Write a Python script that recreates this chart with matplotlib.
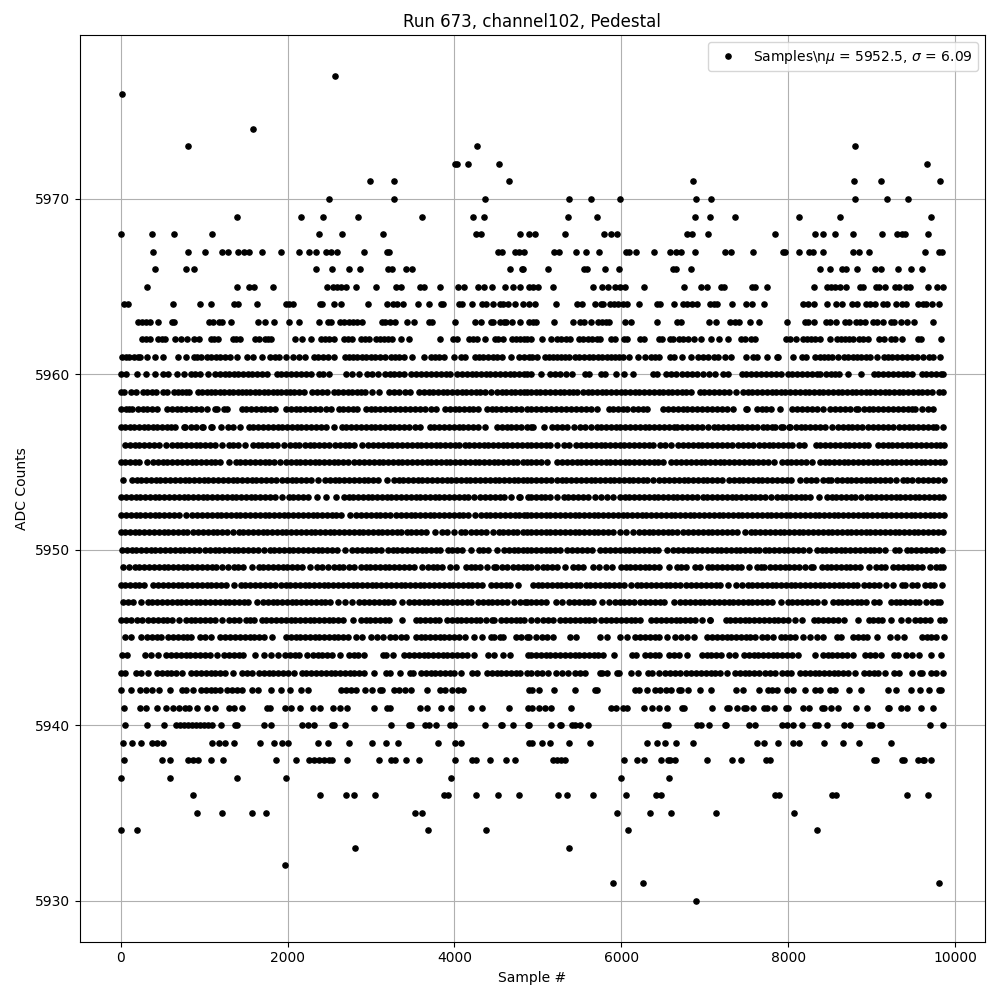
import matplotlib
matplotlib.use('Agg')
import matplotlib.pyplot as plt

# sample numbers, one list per ADC level
adc_5977 = [2564]
adc_5976 = [20]
adc_5974 = [1580]
adc_5973 = [812, 4268, 8796]
adc_5972 = [4010, 4028, 4160, 4532, 9660]
adc_5971 = [2984, 3272, 4652, 6864, 8784, 9108, 9816]
adc_5970 = [2492, 3272, 4364, 5376, 5640, 5988, 6900, 7068, 8796, 9180, 9432]
adc_5969 = [1388, 2156, 2420, 2840, 3608, 4220, 4352, 5364, 5712, 6888, 7056, 7356, 8124, 8616, 9708]
adc_5968 = [8, 380, 644, 1100, 2372, 2648, 3140, 4256, 4320, 4784, 4888, 4964, 5328, 5796, 5880, 5952, 6792, 6852,
            7032, 7836, 8316, 8412, 8556, 8772, 9120, 9300, 9360, 9396, 9672]
adc_5967 = [392, 812, 1016, 1220, 1280, 1400, 1472, 1532, 1688, 1916, 2132, 2252, 2336, 2456, 2516, 2588, 2912, 3188,
            3212, 4520, 4568, 4724, 4772, 4832, 5196, 5256, 5460, 5580, 5736, 6060, 6096, 6180, 6396, 6588, 6660, 6720,
            6888, 7236, 7308, 7572, 7932, 7956, 8124, 8244, 8292, 8412, 8772, 8844, 8964, 9636, 9804, 9840]
adc_5966 = [416, 788, 884, 2336, 2528, 2732, 2864, 3200, 3248, 3416, 3488, 4664, 4808, 4824, 5124, 5556, 5588, 5808,
            5976, 6624, 6652, 6840, 8376, 8496, 8640, 8688, 8820, 9036, 9108, 9312, 9468, 9600]
adc_5965 = [320, 1388, 1532, 1592, 1820, 2468, 2540, 2588, 2636, 2696, 2816, 3056, 3296, 3356, 3584, 3632, 3824, 4040,
            4112, 4280, 4352, 4448, 4604, 4700, 4784, 4892, 4940, 5000, 5184, 5664, 5772, 5836, 5928, 5988, 6048, 6276,
            6756, 6948, 7020, 7188, 7224, 7560, 7596, 7740, 8304, 8460, 8508, 8556, 8616, 8688, 8856, 8892, 9048, 9084,
            9156, 9276, 9324, 9408, 9456, 9680, 9780, 9852]
adc_5964 = [44, 92, 632, 956, 1088, 1352, 1400, 1628, 1976, 2020, 2060, 2384, 2412, 2552, 2636, 2960, 3188, 3260, 3308,
            3380, 3560, 3692, 3836, 3860, 4052, 4088, 4204, 4328, 4380, 4460, 4540, 4580, 4640, 4728, 4820, 4892, 4964,
            5220, 5472, 5532, 5688, 5760, 5784, 5868, 5916, 5964, 6024, 6072, 6216, 6432, 6468, 6636, 6744, 6792, 6852,
            6912, 7056, 7104, 7140, 7320, 7488, 7560, 7704, 8172, 8232, 8304, 8460, 8568, 8640, 8760, 8820, 8928, 8976,
            9036, 9132, 9180, 9288, 9360, 9408, 9552, 9612, 9648, 9720, 9804]
adc_5963 = [212, 260, 308, 348, 452, 620, 640, 1064, 1112, 1184, 1220, 1316, 1640, 1724, 1832, 2012, 2132, 2372, 2480,
            2516, 2624, 2672, 2732, 2780, 2828, 2888, 3128, 3164, 3224, 3284, 3428, 3512, 3692, 3728, 4004, 4244, 4316,
            4436, 4460, 4544, 4592, 4616, 4688, 4784, 4892, 4940, 4980, 5196, 5424, 5508, 5556, 5640, 5724, 5772, 5820,
            5856, 6048, 6120, 6432, 6672, 6720, 7044, 7128, 7296, 7356, 7404, 7536, 7644, 7980, 8196, 8232, 8304, 8448,
            8496, 8568, 8676, 8724, 8808, 8856, 8916, 9012, 9060, 9132, 9228, 9264, 9348, 9420, 9504, 9732]
adc_5962 = [260, 308, 348, 452, 500, 528, 656, 728, 800, 884, 944, 1088, 1124, 1172, 1340, 1380, 1424, 1604, 1652, 1724,
            1760, 1796, 2084, 2168, 2276, 2396, 2444, 2492, 2552, 2672, 2720, 2768, 2876, 2924, 2972, 3056, 3104, 3152,
            3200, 3248, 3356, 3452, 3824, 3980, 4028, 4172, 4220, 4268, 4364, 4484, 4520, 4580, 4688, 4736, 4784, 4832,
            4872, 4920, 5052, 5160, 5232, 5280, 5340, 5388, 5496, 5544, 5604, 5652, 5712, 5748, 5880, 5928, 6036, 6072,
            6228, 6276, 6456, 6492, 6588, 6624, 6696, 6744, 6804, 6876, 6948, 7068, 7164, 7272, 7428, 7476, 7548, 7596,
            7968, 8016, 8088, 8172, 8220, 8268, 8316, 8376, 8496, 8580, 8628, 8676, 8724, 8772, 8844, 8892, 8952, 9084,
            9144, 9228, 9276, 9360, 9552, 9588, 9828]
adc_5961 = [20, 68, 104, 164, 212, 236, 320, 416, 512, 692, 788, 884, 920, 968, 1040, 1088, 1148, 1196, 1256, 1304, 1396,
            1508, 1580, 1688, 1784, 1844, 1892, 1976, 2060, 2132, 2204, 2312, 2360, 2420, 2480, 2556, 2684, 2732, 2780,
            2828, 2888, 2936, 2996, 3044, 3104, 3164, 3236, 3284, 3332, 3392, 3488, 3632, 3716, 3764, 3812, 3872, 3992,
            4076, 4124, 4244, 4292, 4340, 4400, 4460, 4508, 4568, 4676, 4772, 4832, 4892, 4932, 4992, 5088, 5136, 5184,
            5232, 5280, 5328, 5376, 5448, 5496, 5556, 5616, 5664, 5724, 5772, 5832, 5880, 5928, 5976, 6024, 6096, 6204,
            6288, 6360, 6408, 6456, 6588, 6636, 6732, 6840, 6924, 6972, 7032, 7104, 7152, 7236, 7308, 7488, 7572, 7620,
            7740, 7860, 7872, 8060, 8160, 8208, 8320, 8376, 8424, 8472, 8520, 8592, 8664, 8712, 8772, 8820, 8868, 8928,
            8976, 9060, 9144, 9192, 9240, 9300, 9360, 9420, 9480, 9540, 9612, 9684, 9732, 9816]
adc_5960 = [8, 60, 200, 300, 408, 504, 572, 680, 760, 840, 895, 950, 1044, 1136, 1190, 1245, 1300, 1355, 1410, 1465, 1520,
            1575, 1630, 1690, 1752, 1868, 1925, 1985, 2040, 2100, 2160, 2220, 2280, 2372, 2430, 2496, 2696, 2775, 2856,
            2948, 3016, 3080, 3168, 3225, 3280, 3335, 3392, 3480, 3540, 3600, 3660, 3715, 3775, 3835, 3895, 3952, 4036,
            4090, 4150, 4205, 4260, 4320, 4375, 4430, 4490, 4545, 4600, 4660, 4715, 4770, 4830, 4872, 4920, 5032, 5140,
            5205, 5270, 5335, 5404, 5568, 5616, 5752, 5800, 5940, 6028, 6136, 6376, 6424, 6540, 6595, 6652, 6732, 6790,
            6850, 6904, 6976, 7050, 7124, 7220, 7280, 7440, 7495, 7555, 7615, 7675, 7735, 7795, 7855, 7912, 7992, 8050,
            8110, 8170, 8225, 8285, 8340, 8384, 8452, 8510, 8565, 8612, 8720, 8876, 9024, 9080, 9140, 9195, 9255, 9310,
            9370, 9425, 9484, 9600, 9655, 9715, 9770, 9830, 9856]
adc_5959 = [8, 40, 120, 184, 268, 320, 372, 424, 508, 560, 640, 690, 735, 780, 824, 928, 980, 1030, 1085, 1135, 1190, 1240,
            1295, 1345, 1400, 1450, 1505, 1555, 1610, 1660, 1715, 1765, 1820, 1870, 1925, 1975, 2030, 2080, 2135, 2192,
            2296, 2355, 2415, 2472, 2556, 2610, 2665, 2720, 2775, 2830, 2880, 2924, 3016, 3092, 3216, 3275, 3340, 3405,
            3472, 3576, 3630, 3690, 3745, 3800, 3860, 3915, 3970, 4030, 4085, 4140, 4200, 4255, 4310, 4370, 4432, 4512,
            4565, 4620, 4675, 4730, 4785, 4830, 4872, 4920, 4975, 5030, 5090, 5145, 5200, 5260, 5315, 5370, 5425, 5464,
            5540, 5595, 5650, 5710, 5765, 5820, 5880, 5935, 5990, 6045, 6105, 6160, 6215, 6275, 6330, 6385, 6445, 6500,
            6555, 6610, 6670, 6725, 6780, 6832, 6940, 6995, 7055, 7110, 7170, 7225, 7284, 7372, 7460, 7515, 7570, 7630,
            7685, 7740, 7800, 7855, 7910, 7965, 8025, 8080, 8135, 8195, 8250, 8305, 8365, 8420, 8475, 8530, 8590, 8645,
            8700, 8760, 8815, 8870, 8930, 8985, 9040, 9095, 9155, 9210, 9265, 9325, 9380, 9435, 9495, 9550, 9605, 9665,
            9724, 9808, 9856]
adc_5958 = [8, 60, 95, 132, 208, 262, 318, 375, 432, 560, 615, 670, 725, 780, 840, 900, 960, 1040, 1136, 1160, 1240, 1272,
            1448, 1505, 1565, 1620, 1680, 1735, 1795, 1852, 1976, 2035, 2095, 2150, 2210, 2270, 2330, 2390, 2455, 2520,
            2616, 2670, 2725, 2780, 2832, 2936, 2995, 3050, 3110, 3170, 3230, 3290, 3350, 3410, 3470, 3530, 3590, 3650,
            3715, 3776, 3888, 3945, 4005, 4060, 4115, 4170, 4225, 4280, 4388, 4445, 4500, 4560, 4620, 4680, 4740, 4800,
            4872, 4920, 4975, 5035, 5095, 5152, 5220, 5280, 5340, 5400, 5460, 5520, 5580, 5640, 5704, 5848, 5905, 5960,
            6015, 6064, 6144, 6200, 6255, 6312, 6504, 6560, 6620, 6680, 6735, 6790, 6844, 6912, 6970, 7030, 7090, 7150,
            7210, 7270, 7332, 7488, 7504, 7620, 7680, 7735, 7792, 7902, 8040, 8100, 8160, 8220, 8285, 8344, 8412, 8500,
            8560, 8620, 8680, 8736, 8812, 8836, 8908, 8965, 9020, 9080, 9140, 9200, 9260, 9320, 9380, 9440, 9480, 9524,
            9608, 9670, 9736]
adc_5957 = [0, 55, 110, 165, 220, 275, 330, 385, 440, 495, 550, 605, 656, 760, 772, 848, 904, 980, 992, 1080, 1092, 1208,
            1280, 1350, 1424, 1536, 1590, 1650, 1705, 1765, 1820, 1880, 1935, 1995, 2050, 2110, 2165, 2225, 2280, 2340,
            2395, 2455, 2552, 2648, 2705, 2765, 2820, 2880, 2935, 2995, 3050, 3110, 3165, 3225, 3280, 3340, 3395, 3455,
            3530, 3592, 3704, 3760, 3820, 3875, 3935, 3990, 4050, 4105, 4165, 4220, 4280, 4364, 4508, 4565, 4625, 4680,
            4740, 4795, 4872, 4920, 4944, 5070, 5172, 5230, 5290, 5352, 5432, 5500, 5565, 5632, 5704, 5760, 5820, 5875,
            5935, 5984, 6048, 6105, 6165, 6220, 6280, 6335, 6395, 6450, 6510, 6565, 6625, 6664, 6732, 6790, 6850, 6905,
            6965, 7036, 7108, 7160, 7216, 7280, 7335, 7395, 7450, 7510, 7565, 7624, 7692, 7750, 7800, 7844, 7912, 7936,
            8008, 8024, 8092, 8150, 8205, 8265, 8320, 8380, 8435, 8524, 8592, 8650, 8710, 8765, 8825, 8884, 8956, 9015,
            9075, 9130, 9190, 9256, 9328, 9385, 9445, 9500, 9560, 9615, 9675, 9730, 9776, 9856]
adc_5956 = [56, 110, 170, 225, 285, 340, 400, 455, 544, 612, 670, 725, 785, 840, 900, 955, 1015, 1070, 1130, 1212, 1296,
            1350, 1410, 1488, 1580, 1640, 1695, 1755, 1810, 1870, 1952, 2032, 2085, 2132, 2208, 2265, 2320, 2380, 2435,
            2492, 2568, 2625, 2685, 2740, 2800, 2892, 2968, 3025, 3085, 3140, 3200, 3255, 3315, 3370, 3430, 3485, 3545,
            3600, 3660, 3715, 3775, 3830, 3890, 3945, 4005, 4060, 4120, 4175, 4235, 4290, 4350, 4405, 4465, 4520, 4580,
            4635, 4695, 4750, 4810, 4872, 4920, 4980, 5035, 5095, 5150, 5232, 5308, 5376, 5460, 5520, 5575, 5635, 5690,
            5750, 5805, 5865, 5920, 5980, 6035, 6095, 6150, 6210, 6265, 6325, 6384, 6460, 6524, 6592, 6684, 6740, 6800,
            6855, 6915, 6970, 7030, 7085, 7145, 7200, 7260, 7324, 7392, 7455, 7515, 7576, 7648, 7705, 7765, 7820, 7880,
            7935, 7995, 8050, 8124, 8188, 8328, 8385, 8445, 8500, 8560, 8615, 8675, 8730, 8790, 8845, 8905, 8952, 9072,
            9130, 9190, 9245, 9305, 9360, 9420, 9475, 9535, 9590, 9650, 9705, 9765, 9820, 9864]
adc_5955 = [0, 55, 110, 170, 225, 312, 388, 445, 505, 560, 620, 675, 735, 790, 850, 905, 965, 1020, 1080, 1135, 1195, 1292,
            1380, 1435, 1495, 1550, 1610, 1665, 1725, 1780, 1840, 1904, 1980, 2035, 2095, 2150, 2210, 2265, 2325, 2380,
            2440, 2495, 2555, 2610, 2670, 2720, 2800, 2860, 2915, 2975, 3030, 3090, 3145, 3205, 3260, 3320, 3375, 3435,
            3490, 3550, 3605, 3665, 3720, 3780, 3835, 3895, 3950, 4010, 4065, 4125, 4180, 4240, 4295, 4355, 4410, 4470,
            4525, 4585, 4640, 4700, 4755, 4815, 4872, 4920, 4980, 5035, 5112, 5232, 5290, 5350, 5405, 5465, 5520, 5580,
            5635, 5695, 5750, 5810, 5865, 5925, 5980, 6040, 6095, 6155, 6210, 6270, 6325, 6385, 6440, 6500, 6592, 6660,
            6720, 6775, 6835, 6890, 6950, 7005, 7065, 7120, 7180, 7235, 7295, 7350, 7410, 7465, 7525, 7580, 7640, 7695,
            7755, 7832, 7920, 7980, 8035, 8095, 8150, 8210, 8284, 8376, 8435, 8490, 8550, 8605, 8665, 8720, 8780, 8835,
            8895, 8950, 9010, 9065, 9125, 9180, 9240, 9295, 9355, 9410, 9470, 9525, 9585, 9640, 9700, 9755, 9815, 9864]
adc_5954 = [32, 132, 190, 245, 305, 360, 420, 475, 535, 590, 650, 705, 765, 820, 880, 935, 995, 1050, 1110, 1165, 1225,
            1280, 1340, 1395, 1455, 1510, 1570, 1625, 1685, 1740, 1800, 1864, 1932, 1990, 2050, 2105, 2165, 2220, 2280,
            2360, 2448, 2505, 2565, 2620, 2680, 2735, 2795, 2850, 2910, 2965, 3025, 3080, 3192, 3272, 3330, 3385, 3445,
            3500, 3560, 3615, 3675, 3730, 3790, 3845, 3905, 3960, 4020, 4075, 4135, 4190, 4250, 4305, 4365, 4420, 4480,
            4535, 4595, 4650, 4710, 4765, 4825, 4872, 4920, 4980, 5035, 5095, 5152, 5224, 5285, 5340, 5400, 5455, 5515,
            5570, 5630, 5685, 5745, 5800, 5860, 5915, 5975, 6030, 6090, 6145, 6205, 6260, 6312, 6384, 6456, 6515, 6570,
            6630, 6685, 6745, 6800, 6860, 6915, 6975, 7030, 7090, 7145, 7204, 7288, 7345, 7405, 7460, 7520, 7575, 7635,
            7690, 7750, 7805, 7865, 7920, 7980, 8035, 8136, 8216, 8275, 8336, 8412, 8470, 8512, 8580, 8640, 8700, 8755,
            8815, 8870, 8930, 8985, 9045, 9100, 9160, 9215, 9292, 9372, 9425, 9484, 9560, 9620, 9675, 9735, 9790, 9864]
adc_5953 = [8, 65, 120, 180, 235, 295, 350, 410, 465, 525, 580, 640, 695, 755, 810, 870, 925, 985, 1040, 1100, 1155, 1215,
            1270, 1330, 1385, 1445, 1500, 1560, 1615, 1675, 1730, 1790, 1845, 1932, 2012, 2070, 2125, 2185, 2240, 2352,
            2456, 2576, 2672, 2730, 2785, 2845, 2900, 2960, 3015, 3075, 3130, 3190, 3245, 3305, 3360, 3420, 3475, 3535,
            3590, 3650, 3705, 3765, 3820, 3880, 3935, 3995, 4050, 4110, 4165, 4232, 4308, 4365, 4425, 4480, 4540, 4595,
            4672, 4768, 4780, 4880, 4920, 4975, 5035, 5090, 5150, 5224, 5308, 5365, 5425, 5480, 5540, 5595, 5684, 5752,
            5825, 5896, 5980, 6040, 6095, 6155, 6210, 6270, 6325, 6385, 6440, 6500, 6555, 6615, 6670, 6730, 6785, 6845,
            6904, 6972, 7030, 7090, 7145, 7205, 7260, 7320, 7375, 7435, 7490, 7550, 7605, 7665, 7720, 7792, 7860, 7920,
            7975, 8035, 8090, 8150, 8205, 8265, 8368, 8460, 8520, 8575, 8635, 8690, 8750, 8805, 8872, 8940, 8995, 9055,
            9110, 9170, 9225, 9285, 9340, 9400, 9455, 9515, 9570, 9630, 9685, 9745, 9800, 9852]
adc_5952 = [8, 65, 120, 180, 235, 295, 350, 410, 465, 525, 580, 640, 695, 784, 860, 920, 975, 1035, 1090, 1150, 1205, 1265,
            1320, 1380, 1435, 1495, 1550, 1610, 1665, 1725, 1780, 1840, 1895, 1955, 2010, 2070, 2125, 2185, 2240, 2300,
            2355, 2415, 2470, 2530, 2585, 2645, 2744, 2820, 2880, 2940, 2995, 3055, 3110, 3170, 3224, 3300, 3360, 3415,
            3475, 3530, 3590, 3645, 3705, 3760, 3820, 3875, 3935, 3990, 4050, 4105, 4165, 4248, 4316, 4375, 4430, 4490,
            4545, 4605, 4660, 4720, 4775, 4835, 4872, 4920, 4980, 5035, 5095, 5150, 5210, 5265, 5325, 5380, 5440, 5495,
            5555, 5610, 5670, 5725, 5785, 5840, 5900, 5955, 6015, 6070, 6130, 6185, 6245, 6300, 6360, 6415, 6475, 6530,
            6590, 6645, 6705, 6760, 6820, 6875, 6935, 6990, 7050, 7105, 7165, 7220, 7280, 7335, 7395, 7450, 7510, 7565,
            7625, 7680, 7740, 7795, 7855, 7910, 7970, 8025, 8085, 8140, 8200, 8255, 8315, 8370, 8430, 8485, 8545, 8600,
            8660, 8715, 8775, 8830, 8890, 8945, 9005, 9060, 9120, 9175, 9235, 9290, 9350, 9405, 9465, 9520, 9580, 9635,
            9695, 9750, 9810, 9864]
adc_5951 = [0, 55, 110, 170, 225, 285, 340, 400, 455, 515, 570, 630, 685, 745, 800, 864, 932, 990, 1045, 1105, 1160, 1220,
            1275, 1344, 1412, 1470, 1525, 1585, 1640, 1700, 1755, 1815, 1870, 1930, 1985, 2045, 2100, 2160, 2215, 2275,
            2330, 2390, 2445, 2505, 2560, 2620, 2675, 2735, 2790, 2850, 2905, 2965, 3020, 3080, 3135, 3195, 3250, 3310,
            3365, 3425, 3480, 3540, 3595, 3655, 3772, 3856, 3915, 3992, 4080, 4128, 4200, 4260, 4315, 4375, 4464, 4528,
            4585, 4640, 4700, 4755, 4815, 4872, 4920, 4980, 5035, 5095, 5150, 5210, 5265, 5325, 5380, 5440, 5495, 5555,
            5610, 5670, 5725, 5785, 5840, 5904, 5980, 6055, 6136, 6208, 6265, 6325, 6380, 6440, 6495, 6555, 6610, 6670,
            6736, 6804, 6860, 6920, 6975, 7035, 7090, 7150, 7205, 7265, 7320, 7380, 7480, 7548, 7605, 7665, 7720, 7780,
            7835, 7895, 7950, 8010, 8065, 8125, 8180, 8240, 8295, 8355, 8410, 8470, 8525, 8585, 8640, 8700, 8755, 8815,
            8870, 8930, 8985, 9045, 9100, 9160, 9215, 9275, 9330, 9390, 9445, 9505, 9560, 9620, 9675, 9735, 9790, 9852]
adc_5950 = [16, 70, 130, 185, 245, 300, 360, 415, 475, 530, 590, 645, 705, 760, 820, 875, 936, 1008, 1065, 1125, 1180, 1240,
            1295, 1355, 1410, 1470, 1525, 1585, 1640, 1712, 1784, 1840, 1900, 1955, 2015, 2070, 2130, 2185, 2245, 2300,
            2360, 2415, 2475, 2530, 2590, 2692, 2776, 2835, 2890, 2950, 3005, 3065, 3124, 3200, 3260, 3315, 3375, 3430,
            3490, 3545, 3605, 3660, 3720, 3775, 3832, 3920, 3975, 4035, 4090, 4200, 4288, 4345, 4400, 4512, 4592, 4650,
            4710, 4765, 4825, 4872, 4920, 4980, 5035, 5095, 5150, 5210, 5265, 5344, 5412, 5470, 5530, 5585, 5645, 5744,
            5808, 5865, 5925, 5980, 6040, 6095, 6155, 6210, 6270, 6325, 6385, 6440, 6544, 6620, 6680, 6735, 6795, 6850,
            6910, 6965, 7025, 7080, 7140, 7195, 7255, 7310, 7370, 7425, 7485, 7540, 7600, 7655, 7715, 7770, 7830, 7885,
            7945, 8000, 8060, 8115, 8175, 8244, 8340, 8400, 8455, 8515, 8570, 8630, 8685, 8745, 8800, 8860, 8915, 8975,
            9030, 9090, 9160, 9276, 9328, 9420, 9476, 9535, 9590, 9650, 9705, 9765, 9844]
adc_5949 = [32, 96, 168, 225, 285, 340, 400, 455, 515, 570, 630, 685, 745, 800, 860, 915, 975, 1030, 1090, 1145, 1216, 1288,
            1352, 1410, 1470, 1572, 1652, 1710, 1765, 1825, 1880, 1940, 1995, 2055, 2110, 2170, 2268, 2348, 2415, 2480,
            2556, 2615, 2670, 2730, 2800, 2876, 2935, 2990, 3050, 3105, 3165, 3220, 3280, 3335, 3395, 3450, 3510, 3612,
            3680, 3740, 3795, 3855, 3952, 4024, 4136, 4195, 4250, 4310, 4392, 4468, 4496, 4568, 4624, 4700, 4760, 4815,
            4872, 4920, 4984, 5056, 5112, 5170, 5225, 5320, 5424, 5480, 5540, 5656, 5736, 5810, 5884, 5992, 6050, 6105,
            6165, 6220, 6280, 6335, 6395, 6450, 6568, 6664, 6720, 6772, 6880, 6940, 7032, 7090, 7150, 7205, 7265, 7320,
            7380, 7435, 7528, 7620, 7668, 7712, 7780, 7840, 7895, 7955, 8010, 8070, 8125, 8204, 8272, 8292, 8400, 8460,
            8515, 8575, 8630, 8690, 8745, 8805, 8860, 8968, 9048, 9105, 9160, 9256, 9315, 9370, 9430, 9485, 9545, 9600,
            9704, 9768, 9820, 9856]
adc_5948 = [0, 55, 110, 170, 225, 285, 384, 452, 510, 570, 625, 685, 740, 800, 855, 915, 970, 1030, 1085, 1145, 1200, 1260,
            1356, 1440, 1495, 1555, 1610, 1670, 1725, 1785, 1848, 1916, 1975, 2030, 2090, 2145, 2205, 2260, 2320, 2375,
            2435, 2490, 2550, 2605, 2665, 2720, 2780, 2835, 2895, 2950, 3010, 3065, 3125, 3180, 3240, 3295, 3355, 3410,
            3470, 3525, 3585, 3640, 3700, 3755, 3815, 3870, 3930, 3985, 4045, 4100, 4160, 4215, 4275, 4332, 4440, 4500,
            4555, 4615, 4670, 4764, 4936, 4995, 5050, 5110, 5165, 5225, 5280, 5340, 5395, 5455, 5510, 5570, 5625, 5685,
            5740, 5800, 5855, 5915, 5970, 6030, 6112, 6184, 6240, 6300, 6355, 6415, 6470, 6530, 6585, 6645, 6700, 6772,
            6840, 6900, 6955, 7015, 7070, 7130, 7185, 7276, 7368, 7444, 7512, 7570, 7625, 7685, 7740, 7800, 7855, 7915,
            7970, 8030, 8085, 8145, 8200, 8260, 8315, 8375, 8430, 8490, 8545, 8605, 8660, 8720, 8775, 8824, 8908, 8965,
            9025, 9092, 9172, 9256, 9360, 9400, 9480, 9544, 9636, 9695, 9750, 9844]
adc_5947 = [32, 90, 150, 248, 324, 380, 440, 495, 555, 610, 670, 725, 785, 840, 900, 955, 1015, 1070, 1130, 1185, 1245,
            1300, 1360, 1415, 1475, 1530, 1632, 1704, 1760, 1820, 1875, 1935, 1990, 2050, 2105, 2165, 2220, 2280, 2335,
            2395, 2450, 2510, 2604, 2688, 2772, 2860, 2920, 2975, 3035, 3090, 3150, 3205, 3265, 3372, 3456, 3515, 3570,
            3630, 3685, 3745, 3800, 3860, 3915, 3975, 4030, 4090, 4145, 4200, 4280, 4340, 4400, 4455, 4515, 4570, 4630,
            4712, 4784, 4840, 4872, 4920, 4980, 5035, 5095, 5212, 5292, 5368, 5436, 5490, 5550, 5605, 5665, 5764, 5848,
            5920, 5980, 6035, 6095, 6150, 6224, 6288, 6345, 6400, 6460, 6515, 6628, 6708, 6765, 6825, 6880, 6940, 6995,
            7055, 7110, 7170, 7225, 7285, 7340, 7400, 7455, 7515, 7570, 7630, 7685, 7745, 7800, 7912, 7992, 8050, 8110,
            8165, 8225, 8280, 8340, 8428, 8532, 8590, 8645, 8705, 8760, 8820, 8875, 8932, 9024, 9088, 9228, 9285, 9340,
            9400, 9455, 9515, 9570, 9652, 9720, 9780, 9820]
adc_5946 = [0, 60, 125, 192, 260, 332, 390, 445, 505, 560, 620, 696, 780, 840, 895, 955, 1010, 1070, 1125, 1216, 1296, 1352,
            1416, 1496, 1550, 1596, 1688, 1745, 1805, 1860, 1920, 1975, 2035, 2090, 2150, 2205, 2265, 2320, 2380, 2435,
            2495, 2550, 2610, 2665, 2784, 2876, 2935, 2990, 3050, 3105, 3165, 3220, 3372, 3536, 3590, 3650, 3705, 3765,
            3816, 3908, 3965, 4025, 4080, 4140, 4195, 4255, 4310, 4372, 4448, 4472, 4560, 4620, 4675, 4735, 4790, 4832,
            4920, 4984, 5064, 5120, 5180, 5264, 5328, 5385, 5445, 5500, 5560, 5615, 5675, 5752, 5820, 5880, 5935, 5995,
            6050, 6110, 6165, 6224, 6360, 6420, 6475, 6535, 6590, 6650, 6705, 6765, 6820, 6880, 6964, 7056, 7064, 7248,
            7305, 7365, 7420, 7480, 7535, 7595, 7650, 7710, 7765, 7825, 7880, 7940, 8000, 8080, 8168, 8304, 8360, 8420,
            8475, 8535, 8590, 8668, 8840, 8964, 9020, 9080, 9124, 9228, 9352, 9432, 9520, 9580, 9640, 9700, 9820, 9864]
adc_5945 = [48, 120, 248, 310, 370, 430, 480, 572, 630, 690, 745, 800, 840, 948, 1015, 1080, 1196, 1255, 1315, 1370, 1430,
            1485, 1545, 1600, 1660, 1715, 1812, 1976, 2035, 2095, 2150, 2210, 2265, 2325, 2380, 2440, 2495, 2555, 2610,
            2670, 2728, 2820, 2892, 2996, 3070, 3144, 3228, 3292, 3360, 3424, 3536, 3595, 3650, 3710, 3765, 3825, 3880,
            3940, 3995, 4055, 4128, 4232, 4332, 4436, 4476, 4544, 4584, 4736, 4800, 4872, 4892, 4980, 5045, 5110, 5176,
            5380, 5452, 5748, 5832, 5988, 6072, 6168, 6225, 6285, 6340, 6400, 6455, 6544, 6648, 6720, 6790, 6872, 7028,
            7085, 7145, 7200, 7260, 7315, 7375, 7430, 7490, 7545, 7600, 7688, 7750, 7816, 7908, 7965, 8025, 8080, 8176,
            8256, 8344, 8412, 8580, 8632, 8772, 8830, 8890, 8945, 9064, 9216, 9300, 9384, 9600, 9660, 9715, 9775, 9860]
adc_5944 = [16, 80, 288, 365, 444, 548, 605, 665, 720, 780, 835, 895, 950, 1010, 1065, 1152, 1240, 1300, 1355, 1415, 1470,
            1604, 1716, 1800, 1888, 1968, 2025, 2085, 2140, 2232, 2300, 2360, 2415, 2475, 2530, 2628, 2732, 2790, 2845,
            2916, 3140, 3180, 3260, 3396, 3455, 3515, 3570, 3630, 3685, 3745, 3800, 3860, 3915, 3975, 4030, 4090, 4145,
            4236, 4400, 4476, 4580, 4668, 4880, 4920, 4980, 5035, 5095, 5150, 5210, 5265, 5325, 5380, 5440, 5495, 5555,
            5610, 5670, 5725, 5784, 5916, 6132, 6180, 6280, 6340, 6400, 6448, 6576, 6630, 6688, 6792, 6960, 7020, 7075,
            7135, 7190, 7288, 7356, 7464, 7525, 7585, 7640, 7700, 7755, 7815, 7870, 7930, 7985, 8044, 8112, 8316, 8412,
            8470, 8525, 8585, 8640, 8704, 8772, 8916, 8975, 9035, 9112, 9264, 9312, 9412, 9488, 9568, 9708, 9828]
adc_5943 = [8, 56, 188, 240, 332, 432, 490, 550, 605, 665, 732, 848, 905, 965, 1020, 1080, 1135, 1195, 1250, 1344, 1448,
            1510, 1572, 1656, 1715, 1775, 1830, 1890, 1945, 2005, 2076, 2168, 2225, 2285, 2340, 2400, 2455, 2515, 2570,
            2630, 2685, 2745, 2800, 2860, 2915, 3032, 3176, 3228, 3352, 3468, 3504, 3596, 3655, 3715, 3770, 3830, 3885,
            3945, 4000, 4080, 4208, 4272, 4388, 4445, 4505, 4560, 4620, 4675, 4735, 4790, 4872, 4920, 4985, 5050, 5116,
            5212, 5285, 5356, 5440, 5500, 5564, 5740, 5772, 5832, 5948, 5968, 6120, 6204, 6316, 6364, 6456, 6520, 6580,
            6640, 6704, 6780, 6840, 6895, 6955, 7010, 7070, 7125, 7185, 7264, 7360, 7420, 7480, 7535, 7595, 7648, 7720,
            7785, 7844, 7928, 7985, 8032, 8140, 8200, 8255, 8315, 8370, 8430, 8485, 8545, 8600, 8660, 8715, 8804, 8908,
            8965, 9025, 9080, 9160, 9272, 9328, 9480, 9580, 9604, 9712, 9770, 9856]
adc_5942 = [8, 120, 228, 300, 372, 464, 596, 732, 784, 872, 960, 1020, 1080, 1135, 1195, 1272, 1336, 1395, 1452, 1568, 1644,
            1796, 1916, 2032, 2160, 2244, 2636, 2700, 2760, 2820, 2928, 3012, 3108, 3132, 3272, 3340, 3410, 3480, 3668, 3824,
            3888, 3976, 4040, 4104, 4892, 4924, 5016, 5196, 5448, 5680, 5704, 6160, 6216, 6312, 6400, 6465, 6530, 6592, 6696,
            6712, 6804, 6940, 7068, 7368, 7456, 7652, 7752, 7810, 7864, 7980, 8056, 8196, 8320, 8384, 8500, 8564, 8724, 8868,
            9192, 9292, 9472, 9584, 9684, 9808, 9832]
adc_5941 = [44, 228, 300, 440, 540, 628, 696, 776, 816, 920, 1032, 1132, 1296, 1360, 1452, 1752, 1784, 1964, 2044, 2148, 2300,
            2384, 2544, 2632, 2716, 3032, 3188, 3232, 3584, 3672, 3836, 3964, 4200, 4332, 4656, 4880, 4924, 5012, 5084, 5152,
            5400, 5880, 5936, 6024, 6064, 6276, 6368, 6448, 6544, 6728, 6752, 7080, 7260, 7288, 7380, 7464, 7492, 7572, 7704,
            7744, 7824, 7968, 7996, 8172, 8244, 8400, 8424, 8512, 8596, 8808, 8940, 9192, 9208, 9352, 9424, 9592, 9736]
adc_5940 = [56, 320, 524, 668, 716, 764, 812, 860, 908, 956, 1004, 1052, 1100, 1208, 1368, 1392, 1712, 1804, 2168, 2248, 2316,
            2536, 2556, 2684, 3236, 3452, 3484, 3648, 3700, 3780, 3952, 3992, 4360, 4556, 4572, 4700, 4880, 4892, 5152, 5260,
            5280, 5408, 5450, 5500, 5604, 6520, 6560, 6912, 6952, 7044, 7240, 7252, 7528, 7600, 7920, 7990, 8056, 8160, 8320,
            8356, 8464, 8664, 8736, 8968, 9004, 9100, 9112, 9696, 9852]
adc_5939 = [32, 140, 248, 380, 440, 512, 1100, 1184, 1256, 1352, 1664, 1832, 1928, 2000, 2360, 2480, 2732, 3008, 3176, 3320,
            3800, 4004, 4076, 4892, 4924, 5052, 5148, 5376, 5628, 6312, 6432, 6528, 6660, 6864, 7620, 7704, 7872, 8052, 8124,
            8424, 8652, 8844, 9228]
adc_5938 = [44, 500, 596, 812, 872, 932, 1088, 1232, 1856, 2096, 2252, 2312, 2372, 2432, 2492, 2528, 2708, 3092, 3236, 3284,
            3416, 3572, 4004, 4212, 4260, 4424, 4616, 4724, 5180, 5228, 5276, 5320, 6036, 6192, 6276, 6480, 6564, 6588, 6648,
            7020, 7320, 7428, 7728, 7776, 9024, 9052, 9360, 9388, 9552, 9620, 9632, 9708]
adc_5937 = [8, 596, 1388, 1976, 3956, 6000, 6576]
adc_5936 = [872, 2384, 2696, 2792, 3044, 3880, 3920, 4256, 4520, 4772, 5244, 5352, 5664, 6060, 6420, 6480, 7836, 7884,
            8520, 8568, 9420, 9672]
adc_5935 = [920, 1220, 1568, 1736, 3524, 3608, 5952, 6348, 6600, 7128, 8064]
adc_5934 = [0, 200, 3680, 4376, 6084, 8340]
adc_5933 = [2804, 5376]
adc_5932 = [1964]
adc_5931 = [5904, 6264, 9804]
adc_5930 = [6900]

levels = {
    5977: adc_5977, 5976: adc_5976, 5974: adc_5974, 5973: adc_5973, 5972: adc_5972, 5971: adc_5971, 5970: adc_5970,
    5969: adc_5969, 5968: adc_5968, 5967: adc_5967, 5966: adc_5966, 5965: adc_5965, 5964: adc_5964, 5963: adc_5963,
    5962: adc_5962, 5961: adc_5961, 5960: adc_5960, 5959: adc_5959, 5958: adc_5958, 5957: adc_5957, 5956: adc_5956,
    5955: adc_5955, 5954: adc_5954, 5953: adc_5953, 5952: adc_5952, 5951: adc_5951, 5950: adc_5950, 5949: adc_5949,
    5948: adc_5948, 5947: adc_5947, 5946: adc_5946, 5945: adc_5945, 5944: adc_5944, 5943: adc_5943, 5942: adc_5942,
    5941: adc_5941, 5940: adc_5940, 5939: adc_5939, 5938: adc_5938, 5937: adc_5937, 5936: adc_5936, 5935: adc_5935,
    5934: adc_5934, 5933: adc_5933, 5932: adc_5932, 5931: adc_5931, 5930: adc_5930,
}

samples = []
counts = []
for level, xs in levels.items():
    samples += xs
    counts += [level] * len(xs)

fig = plt.figure(figsize=(10, 10))
plt.plot(samples, counts, 'k.', markersize=7.5, label='Samples\\n$\\mu$ = 5952.5, $\\sigma$ = 6.09')
plt.title('Run 673, channel102, Pedestal')
plt.xlabel('Sample #')
plt.ylabel('ADC Counts')
plt.legend(loc='upper right')
plt.grid(True)
plt.tight_layout()
fig.subplots_adjust(top=0.965)
plt.savefig('out.png', dpi=100)
